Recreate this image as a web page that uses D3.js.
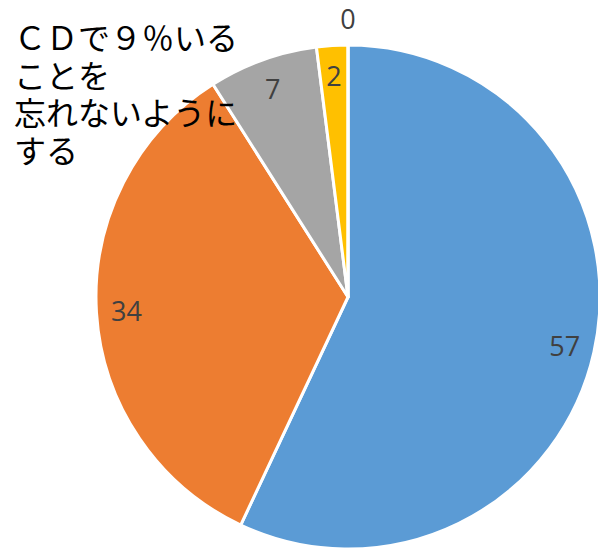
<!DOCTYPE html>
<html lang="ja">
<head>
  <meta charset="UTF-8">
  <title>Pie</title>
  <script src="https://d3js.org/d3.v7.min.js"></script>
  <style>
    body { margin: 0; background: #fff; }
    .label { font-family: "Open Sans", sans-serif; font-size: 27px; fill: #404040; }
    .note { font-family: "Noto Sans CJK JP", sans-serif; font-size: 32px; fill: #000; }
  </style>
</head>
<body>
<svg width="598" height="552"></svg>

<script>
  const values = [57, 34, 7, 2, 0];
  const colors = ["#5B9BD5", "#ED7D31", "#A5A5A5", "#FFC000", "#4472C4"];
  const noteLines = ["ＣＤで９％いる", "ことを", "忘れないように", "する"];

  const svg = d3.select("svg"),
        cx = 348, cy = 297, radius = 252;

  const g = svg.append("g").attr("transform", `translate(${cx},${cy})`);

  const pie = d3.pie().sort(null).value(d => d);
  const arcs = pie(values);

  const arc = d3.arc().innerRadius(0).outerRadius(radius);
  const labelArc = d3.arc().innerRadius(222).outerRadius(222);
  const outerLabelArc = d3.arc().innerRadius(279).outerRadius(279);

  // slices
  g.selectAll("path")
    .data(arcs)
    .join("path")
      .attr("d", arc)
      .attr("fill", (d, i) => colors[i])
      .attr("stroke", "#fff")
      .attr("stroke-width", 3)
      .attr("stroke-linejoin", "round");

  // data labels
  g.selectAll("text.label")
    .data(arcs)
    .join("text")
      .attr("class", "label")
      .attr("transform", d => `translate(${(d.value > 0 ? labelArc : outerLabelArc).centroid(d)})`)
      .attr("text-anchor", "middle")
      .attr("dominant-baseline", "central")
      .text(d => d.data);

  // annotation text
  svg.append("g")
    .selectAll("text")
    .data(noteLines)
    .join("text")
      .attr("class", "note")
      .attr("x", 14)
      .attr("y", (d, i) => 50 + i * 37.7)
      .text(d => d);
</script>
</body>
</html>
